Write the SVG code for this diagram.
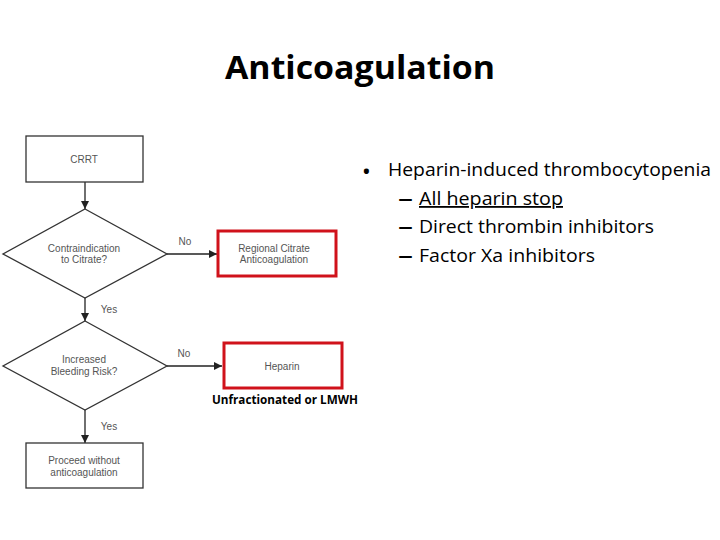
<svg xmlns="http://www.w3.org/2000/svg" width="720" height="540" viewBox="0 0 720 540">
<defs>
<marker id="ah" viewBox="0 0 10 10" refX="10" refY="5" markerWidth="8" markerHeight="8" markerUnits="userSpaceOnUse" orient="auto"><path d="M0,0 L10,5 L0,10 z" fill="#222"/></marker>
</defs>
<style>
.box{fill:#fff;stroke:#333;stroke-width:1.3}
.red{fill:#fff;stroke:#d0121b;stroke-width:3}
.lbl{font-family:"Liberation Sans",Arial,sans-serif;font-size:10px;fill:#555;text-anchor:middle}
.edge{stroke:#222;stroke-width:1.3;fill:none}
.bul{font-family:"Open Sans","Noto Sans",sans-serif;font-size:18px;fill:#000}
</style>
<rect width="720" height="540" fill="#fff"/>
<text x="360" y="79" font-family="'Open Sans','Noto Sans',sans-serif" font-weight="bold" font-size="33" text-anchor="middle" textLength="270" lengthAdjust="spacingAndGlyphs">Anticoagulation</text>
<g id="connectors">
<line class="edge" x1="85" y1="182" x2="85" y2="209" marker-end="url(#ah)"/>
<line class="edge" x1="167" y1="254" x2="217" y2="254" marker-end="url(#ah)"/>
<line class="edge" x1="85" y1="298" x2="85" y2="321" marker-end="url(#ah)"/>
<line class="edge" x1="167" y1="366" x2="222" y2="366" marker-end="url(#ah)"/>
<line class="edge" x1="85" y1="410" x2="85" y2="443" marker-end="url(#ah)"/>
<text class="lbl" x="185" y="245">No</text>
<text class="lbl" x="109" y="313">Yes</text>
<text class="lbl" x="184" y="357">No</text>
<text class="lbl" x="109" y="430">Yes</text>
</g>
<g id="crrt">
<rect class="box" x="26" y="136" width="117" height="46"/>
<text class="lbl" x="84" y="163">CRRT</text>
</g>
<g id="d1">
<polygon class="box" points="85,209 167,254 85,298 3,254"/>
<text class="lbl" x="84" y="252">Contraindication</text>
<text class="lbl" x="84" y="263">to Citrate?</text>
</g>
<g id="rca">
<rect class="red" x="218" y="231" width="118" height="45"/>
<text class="lbl" x="274" y="252">Regional Citrate</text>
<text class="lbl" x="274" y="263">Anticoagulation</text>
</g>
<g id="d2">
<polygon class="box" points="85,321 167,366 85,410 3,366"/>
<text class="lbl" x="84" y="363">Increased</text>
<text class="lbl" x="84" y="375">Bleeding Risk?</text>
</g>
<g id="heparin">
<rect class="red" x="224" y="343" width="118" height="45"/>
<text class="lbl" x="282" y="370">Heparin</text>
<text x="285" y="404" font-family="'Open Sans','Noto Sans',sans-serif" font-weight="bold" font-size="12" text-anchor="middle" textLength="146" lengthAdjust="spacingAndGlyphs">Unfractionated or LMWH</text>
</g>
<g id="proceed">
<rect class="box" x="26" y="443" width="117" height="45"/>
<text class="lbl" x="84" y="464">Proceed without</text>
<text class="lbl" x="84" y="476">anticoagulation</text>
</g>
<g id="bullets">
<text class="bul" x="363" y="178" font-size="26" font-weight="bold">•</text>
<text class="bul" x="388" y="176" font-size="19" textLength="323" lengthAdjust="spacingAndGlyphs">Heparin-induced thrombocytopenia</text>
<text class="bul" x="398" y="205" font-weight="bold" textLength="15" lengthAdjust="spacingAndGlyphs">–</text>
<text class="bul" x="419" y="205" text-decoration="underline" textLength="144" lengthAdjust="spacingAndGlyphs">All heparin stop</text>
<text class="bul" x="398" y="233" font-weight="bold" textLength="15" lengthAdjust="spacingAndGlyphs">–</text>
<text class="bul" x="419" y="233" textLength="235" lengthAdjust="spacingAndGlyphs">Direct thrombin inhibitors</text>
<text class="bul" x="398" y="262" font-weight="bold" textLength="15" lengthAdjust="spacingAndGlyphs">–</text>
<text class="bul" x="419" y="262" textLength="176" lengthAdjust="spacingAndGlyphs">Factor Xa inhibitors</text>
</g>
</svg>
